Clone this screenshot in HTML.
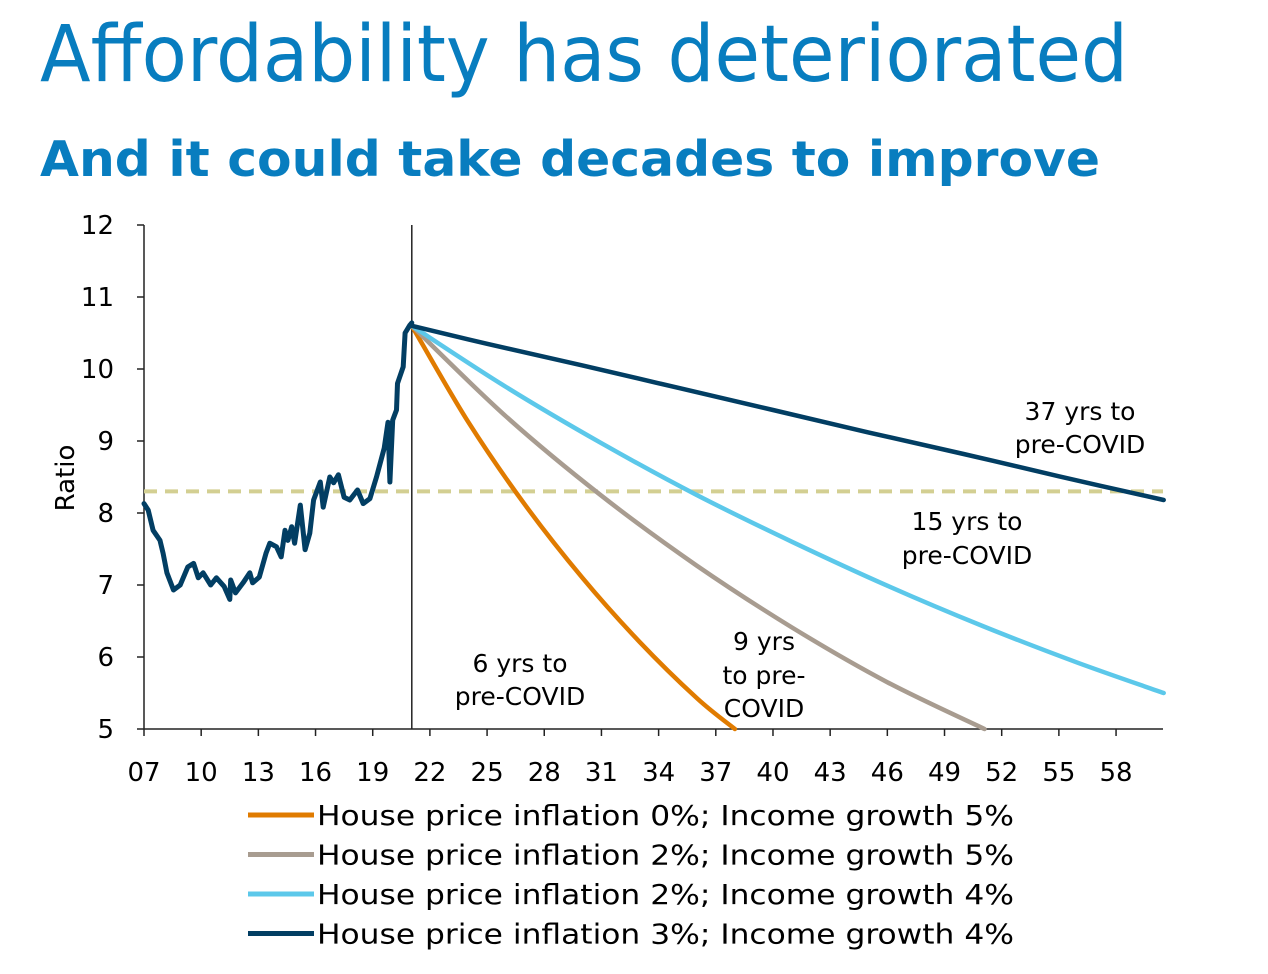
<!DOCTYPE html>
<html><head><meta charset="utf-8"><style>
html,body{margin:0;padding:0;background:#fff;width:1268px;height:974px;overflow:hidden}
svg{display:block}
text{font-family:"DejaVu Sans","Liberation Sans",sans-serif}
</style></head><body>
<svg id="c" width="1268" height="974">
<text x="40" y="81" font-size="78" fill="#087dbf" textLength="1088" lengthAdjust="spacingAndGlyphs">Affordability has deteriorated</text>
<text x="40" y="176" font-size="49" font-weight="bold" fill="#087dbf" textLength="1060" lengthAdjust="spacingAndGlyphs">And it could take decades to improve</text>
<g id="plot"></g>
</svg>
<script>
const yTicks=[5,6,7,8,9,10,11,12];
const xTickLabels=["07","10","13","16","19","22","25","28","31","34","37","40","43","46","49","52","55","58"];
const xTickYears=[7,10,13,16,19,22,25,28,31,34,37,40,43,46,49,52,55,58];
const histYears=[7.0,7.22,7.48,7.84,8.0,8.2,8.55,8.9,9.3,9.6,9.85,10.1,10.5,10.8,11.2,11.5,11.55,11.8,12.2,12.55,12.7,13.05,13.4,13.6,13.95,14.2,14.4,14.55,14.75,14.9,15.2,15.45,15.7,15.9,16.25,16.4,16.75,16.95,17.2,17.5,17.8,18.2,18.5,18.85,19.2,19.6,19.8,19.9,20.05,20.25,20.3,20.6,20.7,20.95,21.05];
const histValues=[8.13,8.04,7.76,7.62,7.44,7.17,6.93,7.0,7.25,7.3,7.1,7.17,7.0,7.1,6.98,6.8,7.07,6.89,7.03,7.17,7.03,7.11,7.44,7.58,7.53,7.39,7.76,7.62,7.81,7.58,8.11,7.49,7.72,8.18,8.43,8.08,8.5,8.42,8.53,8.22,8.18,8.32,8.13,8.2,8.5,8.9,9.26,8.43,9.29,9.43,9.8,10.03,10.5,10.61,10.64];
const darkYears=[21.05,25,30,35,40,45,50,55,60.5];
const darkValues=[10.6,10.35,10.05,9.74,9.43,9.12,8.82,8.51,8.18];
const lightYears=[21.05,26,31,36,41,46,51,56,60.5];
const lightValues=[10.6,9.75,8.97,8.25,7.6,6.99,6.43,5.92,5.5];
const grayYears=[21.05,26,31,36,41,46,51.1];
const grayValues=[10.6,9.34,8.24,7.27,6.41,5.65,5.0];
const orangeYears=[21.05,24,27,30,33,36,38];
const orangeValues=[10.6,9.27,8.11,7.1,6.21,5.43,5.0];
const preCovid=8.3;
const split=21.05;

const NS="http://www.w3.org/2000/svg";
const X0=144,X1=1163,Y0=729,Ytop=225;
const xs=y=>X0+(y-7)*19.06;
const ys=v=>Y0-(v-5)*(Y0-Ytop)/7;
const g=document.getElementById('plot');
function mk(tag,attrs,parent){const e=document.createElementNS(NS,tag);for(const k in attrs)e.setAttribute(k,attrs[k]);(parent||g).appendChild(e);return e;}

let ax=mk('line',{x1:X0,y1:Ytop,x2:X0,y2:Y0,stroke:'#222','stroke-width':1.5});


let bx=mk('line',{x1:X0,y1:Y0,x2:X1,y2:Y0,stroke:'#222','stroke-width':1.5});


yTicks.forEach(v=>{
 const t=mk('line',{x1:X0-7,y1:ys(v),x2:X0,y2:ys(v),stroke:'#222','stroke-width':1.5});
 
 
 const l=mk('text',{x:114,y:ys(v)+9,'font-size':26,'text-anchor':'end',fill:'#000'});
 l.textContent=v;
 
 
});
xTickYears.forEach((yr,i)=>{
 const t=mk('line',{x1:xs(yr),y1:Y0,x2:xs(yr),y2:Y0+7,stroke:'#222','stroke-width':1.5});
 
 
 const l=mk('text',{x:xs(yr),y:Y0+52,'font-size':26,'text-anchor':'middle',fill:'#000'});
 l.textContent=xTickLabels[i];
 
 
});
let yt=mk('text',{x:0,y:0,'font-size':26,'text-anchor':'middle',transform:'translate(74,478) rotate(-90)'});
yt.textContent='Ratio';



let sl=mk('line',{x1:xs(split),y1:Ytop,x2:xs(split),y2:Y0,stroke:'#222','stroke-width':1.5});


let pc=mk('line',{x1:X0,y1:ys(preCovid),x2:X1,y2:ys(preCovid),stroke:'#d3cf92','stroke-width':4,'stroke-dasharray':'13,8'});



function line(xa,va,col,name,w,smooth){
 const P=xa.map((x,i)=>[xs(x),ys(va[i])]);
 let d='M'+P[0][0].toFixed(1)+','+P[0][1].toFixed(1);
 for(let i=1;i<P.length;i++){
  if(!smooth){d+=' L'+P[i][0].toFixed(1)+','+P[i][1].toFixed(1);continue;}
  const p0=P[Math.max(0,i-2)],p1=P[i-1],p2=P[i],p3=P[Math.min(P.length-1,i+1)];
  const c1=[p1[0]+(p2[0]-p0[0])/6,p1[1]+(p2[1]-p0[1])/6];
  const c2=[p2[0]-(p3[0]-p1[0])/6,p2[1]-(p3[1]-p1[1])/6];
  d+=' C'+c1[0].toFixed(1)+','+c1[1].toFixed(1)+' '+c2[0].toFixed(1)+','+c2[1].toFixed(1)+' '+p2[0].toFixed(1)+','+p2[1].toFixed(1);
 }
 const p=mk('path',{d:d,fill:'none',stroke:col,'stroke-width':w,'stroke-linejoin':'round','stroke-linecap':'round'});
 
 
}
line(orangeYears,orangeValues,'#e07b00','series-hpi0-inc5',4.5,true);
line(grayYears,grayValues,'#a89c90','series-hpi2-inc5',4.5,true);
line(lightYears,lightValues,'#5cc8ea','series-hpi2-inc4',4.5,true);
line(darkYears,darkValues,'#023e63','series-hpi3-inc4',4.5,true);
line(histYears,histValues,'#023e63','series-historical',5,false);

const ann=[[520,672,'6 yrs to'],[520,705,'pre-COVID'],[764,650,'9 yrs'],[764,684,'to pre-'],[764,717,'COVID'],[967,530,'15 yrs to'],[967,564,'pre-COVID'],[1080,420,'37 yrs to'],[1080,453,'pre-COVID']];
ann.forEach(a=>{
 const t=mk('text',{x:a[0],y:a[1],'font-size':25,'text-anchor':'middle',fill:'#000'});
 t.textContent=a[2];
 
 
});
const leg=[['#e07b00','House price inflation 0%; Income growth 5%'],['#a89c90','House price inflation 2%; Income growth 5%'],['#5cc8ea','House price inflation 2%; Income growth 4%'],['#023e63','House price inflation 3%; Income growth 4%']];
leg.forEach((l,i)=>{
 const y=815+i*39.5;
 const s=mk('line',{x1:248,y1:y,x2:314,y2:y,stroke:l[0],'stroke-width':5});
 
 
 const t=mk('text',{x:317,y:y+10,'font-size':28,fill:'#000',textLength:697,lengthAdjust:'spacingAndGlyphs'});
 t.textContent=l[1];
 
 
});
</script>
</body></html>
